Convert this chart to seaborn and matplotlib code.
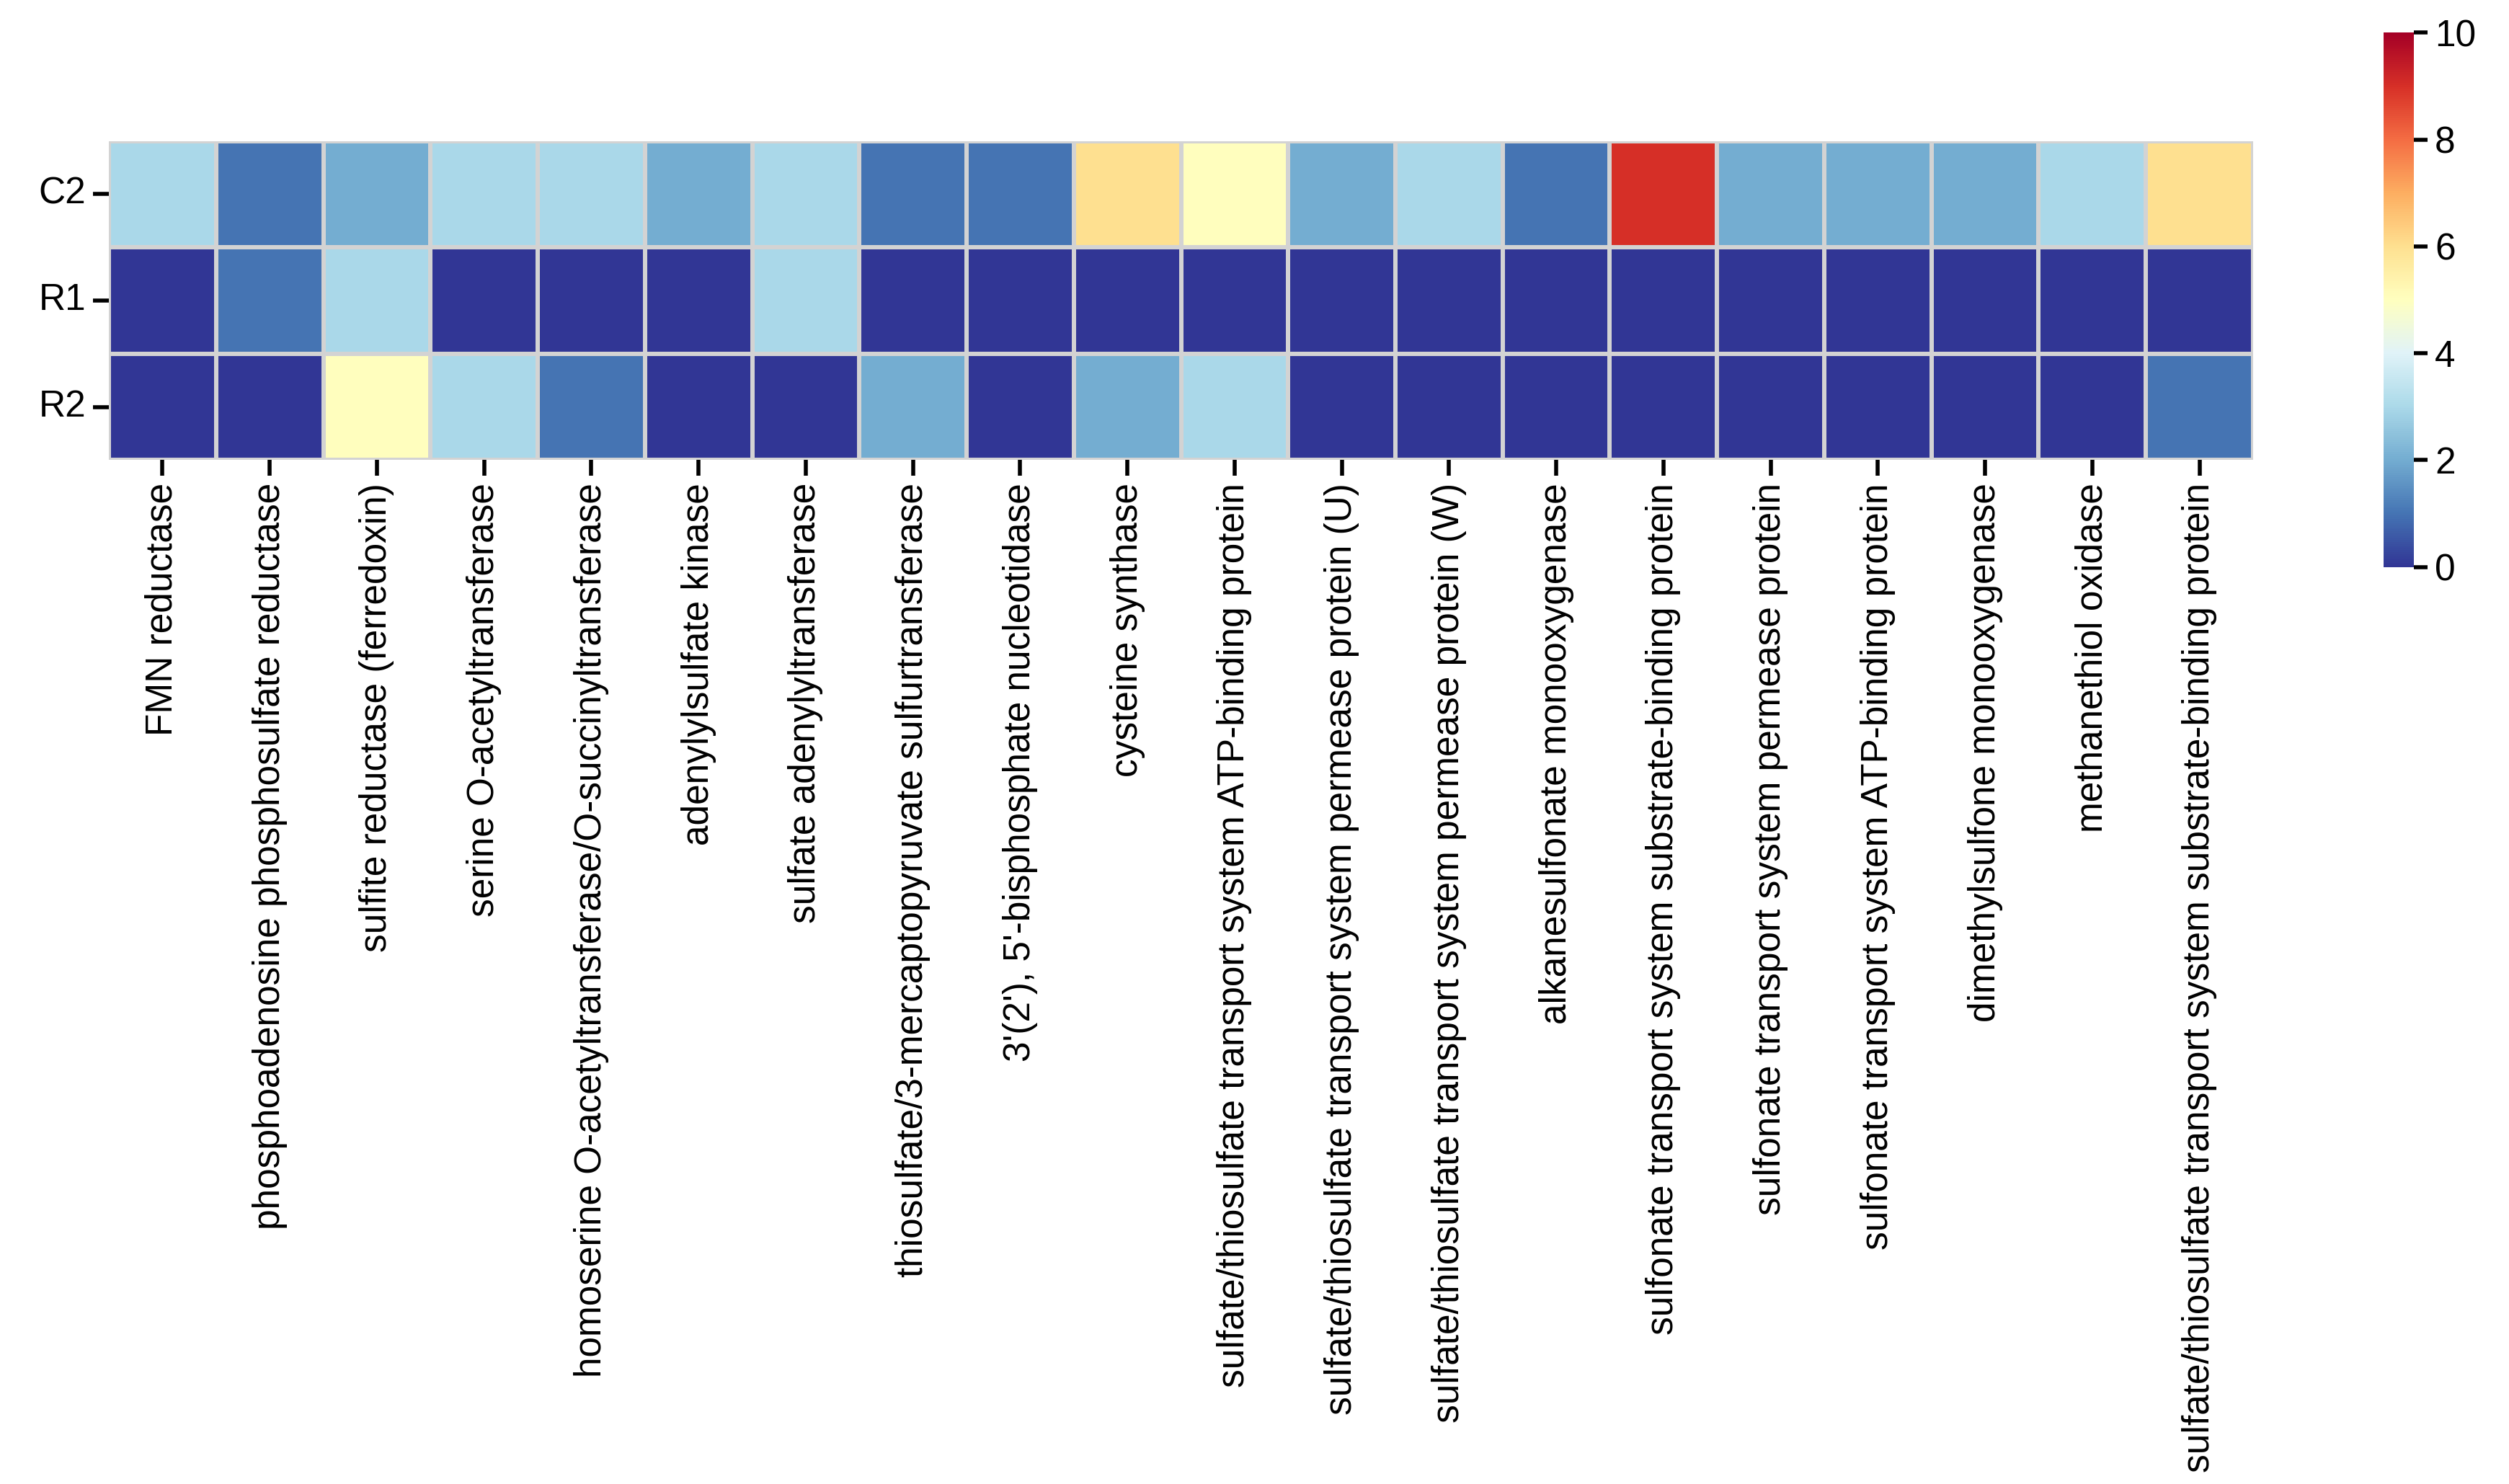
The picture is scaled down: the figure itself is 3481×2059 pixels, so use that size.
import matplotlib
matplotlib.use("Agg")
import matplotlib.pyplot as plt
import seaborn as sns
import pandas as pd

genes = ["FMN reductase","phosphoadenosine phosphosulfate reductase","sulfite reductase (ferredoxin)",
 "serine O-acetyltransferase","homoserine O-acetyltransferase/O-succinyltransferase","adenylylsulfate kinase",
 "sulfate adenylyltransferase","thiosulfate/3-mercaptopyruvate sulfurtransferase","3'(2'), 5'-bisphosphate nucleotidase",
 "cysteine synthase","sulfate/thiosulfate transport system ATP-binding protein",
 "sulfate/thiosulfate transport system permease protein (U)","sulfate/thiosulfate transport system permease protein (W)",
 "alkanesulfonate monooxygenase","sulfonate transport system substrate-binding protein",
 "sulfonate transport system permease protein","sulfonate transport system ATP-binding protein",
 "dimethylsulfone monooxygenase","methanethiol oxidase","sulfate/thiosulfate transport system substrate-binding protein"]
samples = ["C2","R1","R2"]
C2 = [3,1,2,3,3,2,3,1,1,6,5,2,3,1,9,2,2,2,3,6]
R1 = [0,1,3,0,0,0,3,0,0,0,0,0,0,0,0,0,0,0,0,0]
R2 = [0,0,5,3,1,0,0,2,0,2,3,0,0,0,0,0,0,0,0,1]

df = pd.DataFrame([C2,R1,R2], index=samples, columns=genes)

sns.set_theme(style="ticks")
plt.rcParams['font.family'] = ['Arial','Liberation Sans','DejaVu Sans']
plt.rcParams['text.color'] = 'black'
fig = plt.figure(figsize=(17.405,10.295), dpi=200)
ax = fig.add_axes([0.0434,0.690,0.8546,0.215])
cax = fig.add_axes([0.950,0.618,0.012,0.360])
sns.heatmap(df, ax=ax, cbar_ax=cax, cmap="RdYlBu_r", vmin=0, vmax=10,
            linewidths=2, linecolor="#d3d3d3")
ax.tick_params(axis='x', labelrotation=90, labelsize=18.5, length=8, width=2, colors='black')
ax.tick_params(axis='y', labelrotation=0, labelsize=18.5, length=8, width=2, colors='black')
cax.tick_params(labelsize=18.5, length=7, width=2, colors='black')
cax.set_yticks([0,2,4,6,8,10])
fig.savefig("out.png", dpi=200)
